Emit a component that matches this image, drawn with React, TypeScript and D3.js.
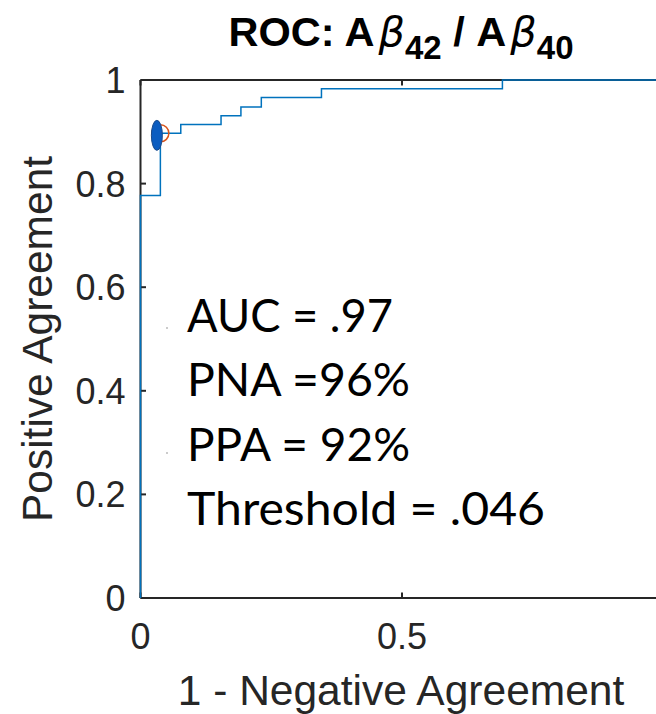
import React from 'react';
import * as d3 from 'd3';

const fpr = [0, 0, 0.038, 0.077, 0.154, 0.192, 0.231, 0.346, 0.692, 1];
const tpr = [0, 0.777, 0.897, 0.914, 0.931, 0.948, 0.966, 0.983, 1, 1];
const xTicks = [0, 0.5, 1];
const yTicks = [0, 0.2, 0.4, 0.6, 0.8, 1];
const opPoint = [0.038, 0.897];
const statLines = ['AUC = .97', 'PNA =96%', 'PPA = 92%', 'Threshold = .046'];
const statWidths = [206, 223, 223, 358];

const W = 656;
const H = 714;
const left = 140.5;
const right = 663.5;
const top = 80;
const bottom = 598;

export default function App() {
  const x = d3.scaleLinear().domain([0, 1]).range([left, right]);
  const y = d3.scaleLinear().domain([0, 1]).range([bottom, top]);
  const pts = fpr.map((f, i) => [f, tpr[i]] as [number, number]);
  const line = d3
    .line<[number, number]>()
    .x((d) => x(d[0]))
    .y((d) => y(d[1]))
    .curve(d3.curveStepAfter);
  const axisColor = '#262626';
  const tickFont = 'Liberation Sans, Arial, Helvetica, sans-serif';
  const ox = x(opPoint[0]);
  const oy = y(opPoint[1]);
  return (
    <svg
      width={W}
      height={H}
      style={{ position: 'absolute', left: 0, top: 0, background: '#fff' }}
    >
      <rect x={0} y={0} width={W} height={H} fill="#fff" />
      {/* title */}
      <text
        x={401}
        y={46}
        textAnchor="middle"
        fontFamily={tickFont}
        fontSize={41.5}
        fontWeight="bold"
        fill="#000"
      >
        <tspan>ROC: A</tspan>
        <tspan fontStyle="italic" fontWeight="normal" fontFamily="DejaVu Sans, sans-serif" dx={4}>β</tspan>
        <tspan dy={13} fontSize={33}>42</tspan>
        <tspan dy={-13}> / A</tspan>
        <tspan fontStyle="italic" fontWeight="normal" fontFamily="DejaVu Sans, sans-serif" dx={4}>β</tspan>
        <tspan dy={13} fontSize={33}>40</tspan>
      </text>
      {/* axes box */}
      <g stroke={axisColor} strokeWidth={2} fill="none">
        <line x1={left} y1={bottom} x2={W} y2={bottom} />
        <line x1={left} y1={top} x2={W} y2={top} />
        <line x1={left} y1={top} x2={left} y2={bottom} />
        {yTicks.map((t) => (
          <line key={'yt' + t} x1={left} x2={left + 5.5} y1={y(t)} y2={y(t)} />
        ))}
        {xTicks
          .filter((t) => x(t) < W)
          .map((t) => (
            <g key={'xt' + t}>
              <line x1={x(t)} x2={x(t)} y1={bottom} y2={bottom - 5.5} />
              <line x1={x(t)} x2={x(t)} y1={top} y2={top + 5.5} />
            </g>
          ))}
      </g>
      {/* tick labels */}
      {yTicks.map((t) => (
        <text
          key={'yl' + t}
          x={left - 15}
          y={y(t)}
          dy="0.36em"
          textAnchor="end"
          fontFamily={tickFont}
          fontSize={36}
          fill={axisColor}
        >
          {String(t)}
        </text>
      ))}
      {xTicks
        .filter((t) => x(t) < W - 10)
        .map((t) => (
          <text
            key={'xl' + t}
            x={x(t)}
            y={649}
            textAnchor="middle"
            fontFamily={tickFont}
            fontSize={36}
            fill={axisColor}
          >
            {String(t)}
          </text>
        ))}
      {/* axis labels */}
      <text
        x={401}
        y={705}
        textAnchor="middle"
        fontFamily={tickFont}
        fontSize={42.5}
        fill={axisColor}
      >
        1 - Negative Agreement
      </text>
      <text
        transform={`translate(52,${(top + bottom) / 2}) rotate(-90)`}
        textAnchor="middle"
        fontFamily={tickFont}
        fontSize={42.5}
        fill={axisColor}
      >
        Positive Agreement
      </text>
      {/* ROC curve */}
      <path d={line(pts) || ''} fill="none" stroke="#0072BD" strokeWidth={1.5} />
      {/* operating point */}
      <circle cx={ox} cy={oy} r={8.5} fill="none" stroke="#D95319" strokeWidth={1.5} />
      <ellipse cx={ox - 3.5} cy={oy + 2} rx={5.5} ry={15} fill="#0B5CC0" stroke="#1A4A8A" strokeWidth={1} />
      {/* stats text */}
      {statLines.map((s, i) => (
        <text
          key={s}
          x={187}
          y={332 + i * 64.3}
          fontFamily="Lato, 'Open Sans', sans-serif"
          fontSize={47}
          textLength={statWidths[i]}
          lengthAdjust="spacingAndGlyphs"
          fill="#000"
        >
          {s}
        </text>
      ))}
      <circle cx={167} cy={328} r={0.8} fill="#888" />
      <circle cx={167} cy={453} r={0.8} fill="#888" />
    </svg>
  );
}
